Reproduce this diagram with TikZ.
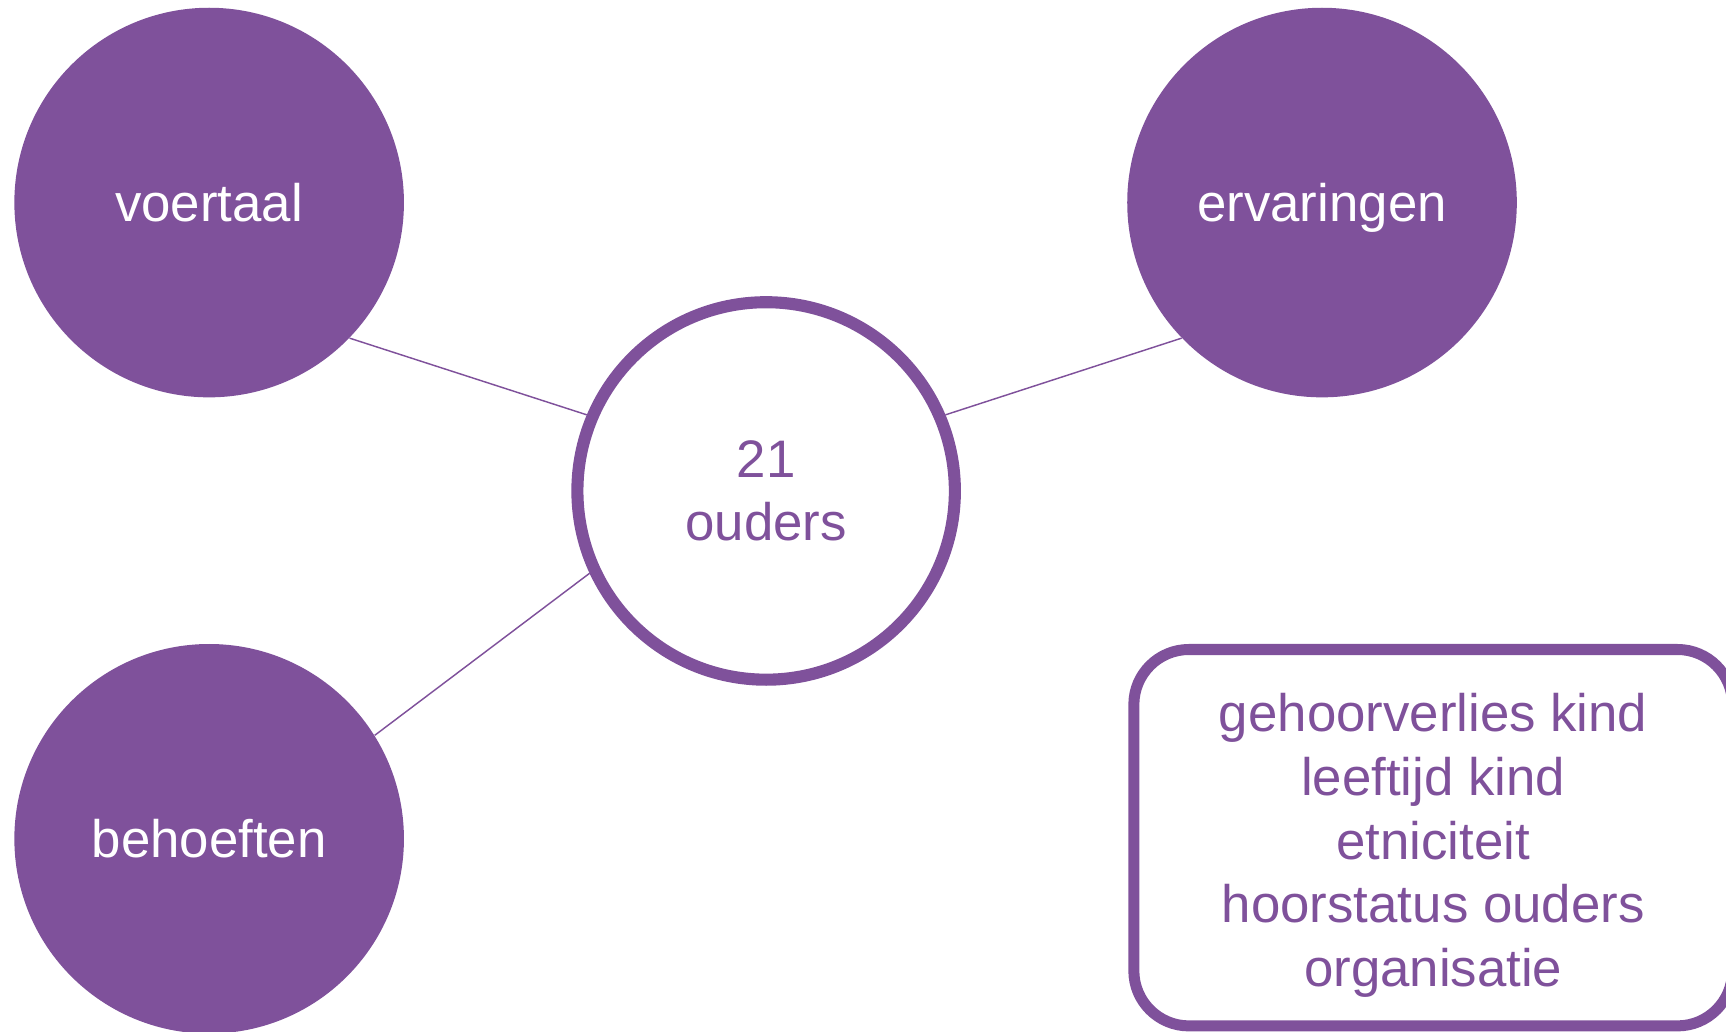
\documentclass[tikz,border=0pt]{standalone}
\usepackage{fontspec}
\setmainfont{Liberation Sans}
\begin{document}
\begin{tikzpicture}[x=0.02cm,y=-0.02cm]

	% Define colors
	\definecolor{oudercolor}{RGB}{127, 81, 155}

	% Define styles
	\tikzset{
		thema/.style={circle, fill=oudercolor, minimum size=7.08cm, inner sep=0pt, text=white, text depth=0pt, font=\fontsize{27.3}{32.9}\selectfont},
		kern/.style={circle, draw=oudercolor, line width=0.22cm, fill=white, minimum size=6.86cm, inner sep=0pt, text=oudercolor, align=center, font=\fontsize{27.3}{32.9}\selectfont},
		lijn/.style={draw=oudercolor, line width=0.75pt}
	}

	% Picture size
	\clip (0,0) rectangle (1568,937);

	% Draw the three theme circles
	\node[thema] (voertaal) at (190,184) {voertaal};
	\node[thema] (ervaringen) at (1201,184) {ervaringen};
	\node[thema] (behoeften) at (190,762) {behoeften};

	% Draw the central circle
	\node[kern] (ouders) at (696,446) {21\\ouders};

	% Connect the themes to the centre
	\draw[lijn] (voertaal.-44) -- (ouders.157);
	\draw[lijn] (ervaringen.224) -- (ouders.23);
	\draw[lijn] (behoeften.32) -- (ouders.205);

	% Draw the box with the variables
	\node[draw=oudercolor, line width=0.2cm, rounded corners=1cm, minimum width=10.88cm, minimum height=6.84cm, inner sep=0pt] (kader) at (1302,761) {};
	\node[text=oudercolor, align=center, font=\fontsize{27.3}{32.9}\selectfont] (variabelen) at (1302,768) {gehoorverlies kind\\leeftijd kind\\etniciteit\\hoorstatus ouders\\organisatie};
\end{tikzpicture}
\end{document}
